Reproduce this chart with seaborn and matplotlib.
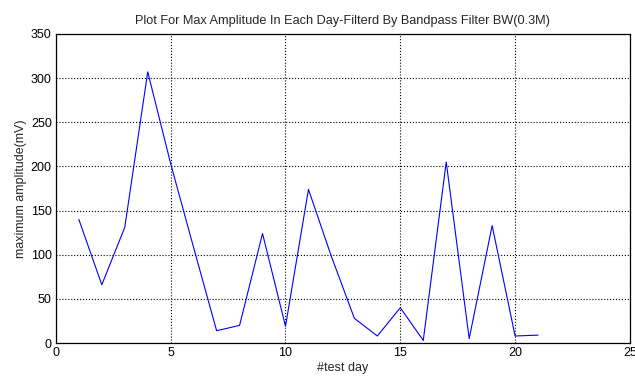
import numpy as np
import pandas as pd
import matplotlib
matplotlib.use("Agg")
import matplotlib.pyplot as plt
import seaborn as sns

# max amplitude per test day
days = list(range(1, 22))
amplitude = [140, 66, 131, 307, 203, 108, 14, 20, 124, 19, 174, 98, 28,
             8, 40, 3, 205, 5, 133, 8, 9]

df = pd.DataFrame({"day": days, "amp": amplitude})

sns.set_style("white")
plt.rcParams['font.family'] = ['Liberation Sans', 'DejaVu Sans']

fig = plt.figure(figsize=(6.35, 3.77), dpi=100)
ax = fig.add_axes([0.088, 0.090, 0.904, 0.820])

sns.lineplot(data=df, x="day", y="amp", color="blue", linewidth=0.8, ax=ax)

ax.set_xlim(0, 25)
ax.set_ylim(0, 350)
ax.set_xticks(np.arange(0, 26, 5))
ax.set_yticks(np.arange(0, 351, 50))
ax.grid(True, color="black", linestyle=":", linewidth=0.8)
for s in ax.spines.values():
    s.set_color("black")
    s.set_linewidth(0.9)
ax.tick_params(direction="in", length=4, width=0.6, labelsize=9, colors="black", pad=3)

ax.set_title("Plot For Max Amplitude In Each Day-Filterd By Bandpass Filter BW(0.3M)",
             fontsize=9.2, pad=7)
ax.set_xlabel("#test day", fontsize=9, labelpad=2)
ax.set_ylabel("maximum amplitude(mV)", fontsize=9, labelpad=3)

fig.savefig("out.png", dpi=100)
